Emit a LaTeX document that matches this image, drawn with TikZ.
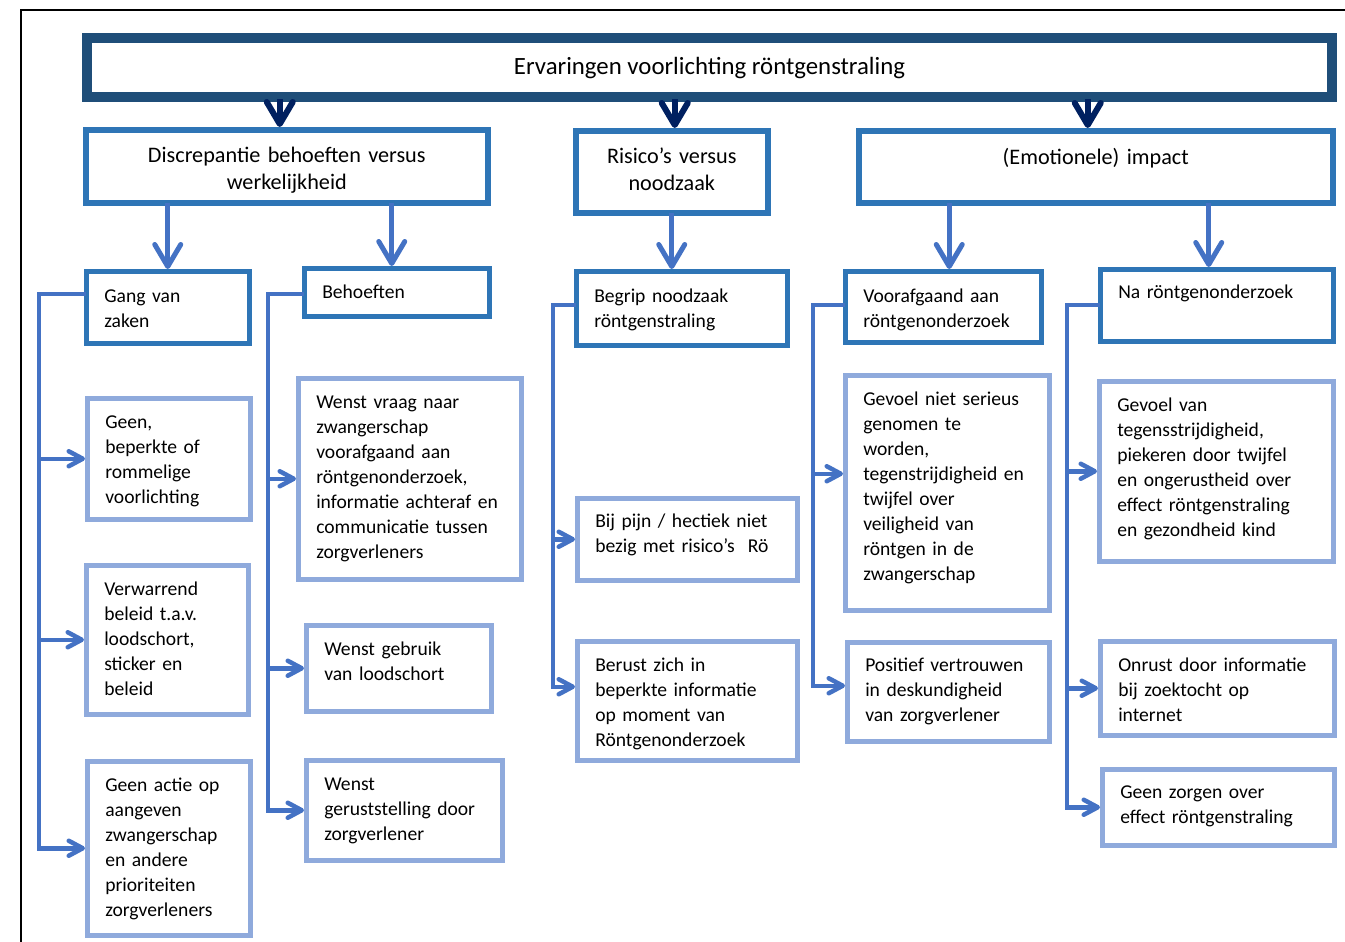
\documentclass[tikz,border=0pt]{standalone}
\usepackage{fontspec}
\setmainfont{Carlito}
\usetikzlibrary{arrows.meta}
\definecolor{titleblue}{HTML}{1F4E79}
\definecolor{navy}{HTML}{002060}
\definecolor{boxblue}{HTML}{2E75B6}
\definecolor{lineblue}{HTML}{4472C4}
\definecolor{leafblue}{HTML}{8FAADC}

\begin{document}
\begin{tikzpicture}[x=1pt, y=-1pt,
  theme/.style={draw=boxblue, line width=5.5pt, fill=white, anchor=north west,
    inner xsep=5pt, inner ysep=0pt, text height=33pt, align=center,
    font=\fontsize{22.2}{27}\selectfont},
  group/.style={draw=boxblue, line width=4.5pt, fill=white, anchor=north west,
    inner xsep=18pt, inner ysep=0pt, text height=30pt, align=left,
    font=\fontsize{19.6}{25}\selectfont},
  leaf/.style={group, draw=leafblue},
  toparr/.style={navy, line width=6pt, line cap=rect,
    -{Straight Barb[length=22pt, width=26pt, round]}},
  downarr/.style={lineblue, line width=5pt, line cap=rect,
    -{Straight Barb[length=22pt, width=26pt, round]}},
  bus/.style={lineblue, line width=4.5pt, line cap=rect},
  busarr/.style={bus, -{Straight Barb[length=14pt, width=15pt, round]}}]

\useasboundingbox (0,0) rectangle (1345,942);

% Frame
\draw [line width=2pt] (21,942) -- (21,10) -- (1345,10);

% Title
\node [draw=titleblue, line width=10pt, fill=white, minimum width=1245pt,
  minimum height=59pt, inner sep=0pt, text height=20pt, text depth=5pt,
  font=\fontsize{24.8}{30}\selectfont]
  (top) at (709.5,67.5) {Ervaringen voorlichting röntgenstraling};

% Themes
\node [theme, text width=392pt, text depth=40pt] (disc) at (83,127)
  {Discrepantie behoeften versus\\werkelijkheid};
\node [theme, text width=182pt, text depth=49pt] (risico) at (573,128)
  {Risico’s versus\\noodzaak};
\node [theme, text width=464pt, text depth=38pt, text height=34pt] (impact) at (856,128)
  {(Emotionele) impact};

% Subthemes
\node [group, text width=127pt, text depth=41pt, text height=31pt] (gang) at (84,269)
  {Gang van\\zaken};
\node [group, text width=149pt, text depth=18pt] (behoeften) at (302,266)
  {Behoeften};
\node [group, text width=175pt, text depth=43pt, text height=31pt] (begrip) at (574,269)
  {Begrip noodzaak\\röntgenstraling};
\node [group, text width=160pt, text depth=40pt, text height=31pt] (vooraf) at (843,269)
  {Voorafgaand aan\\röntgenonderzoek};
\node [group, text width=197pt, text depth=43pt, text height=29pt] (na) at (1098,267)
  {Na röntgenonderzoek};

% Leaves
\node [leaf, text width=127pt, text depth=91pt] (geen) at (85,396)
  {Geen,\\beperkte of\\rommelige\\voorlichting};
\node [leaf, text width=126pt, text depth=119pt] (verw) at (84,563)
  {Verwarrend\\beleid t.a.v.\\loodschort,\\sticker en\\beleid};
\node [leaf, text width=127pt, text depth=144pt] (actie) at (85,759)
  {Geen actie op\\aangeven\\zwangerschap\\en andere\\prioriteiten\\zorgverleners};
\node [leaf, text width=187pt, text depth=171pt] (vraag) at (296,376)
  {Wenst vraag naar\\zwangerschap\\voorafgaand aan\\röntgenonderzoek,\\informatie achteraf en\\communicatie tussen\\zorgverleners};
\node [leaf, text width=149pt, text depth=56pt] (gebruik) at (304,623)
  {Wenst gebruik\\van loodschort};
\node [leaf, text width=160pt, text depth=70pt] (gerust) at (304,758)
  {Wenst\\geruststelling door\\zorgverlener};
\node [leaf, text width=184pt, text depth=53pt, text height=29pt] (pijn) at (575,496)
  {Bij pijn / hectiek niet\\bezig met risico’s~ Rö};
\node [leaf, text width=184pt, text depth=89pt] (berust) at (575,639)
  {Berust zich in\\beperkte informatie\\op moment van\\Röntgenonderzoek};
\node [leaf, text width=168pt, text depth=205pt] (gevoel) at (843,373)
  {Gevoel niet serieus\\genomen te\\worden,\\tegenstrijdigheid en\\twijfel over\\veiligheid van\\röntgen in de\\zwangerschap};
\node [leaf, text width=166pt, text depth=70pt, text height=29pt] (positief) at (845,640)
  {Positief vertrouwen\\in deskundigheid\\van zorgverlener};
\node [leaf, text width=198pt, text depth=150pt] (tegen) at (1097,379)
  {Gevoel van\\tegensstrijdigheid,\\piekeren door twijfel\\en ongerustheid over\\effect röntgenstraling\\en gezondheid kind};
\node [leaf, text width=198pt, text depth=64pt] (onrust) at (1098,639)
  {Onrust door informatie\\bij zoektocht op\\internet};
\node [leaf, text width=196pt, text depth=47pt, text height=29pt] (zorgen) at (1100,767)
  {Geen zorgen over\\effect röntgenstraling};

% Arrows from title
\coordinate (t1) at ([xshift=-7pt]disc.north);
\coordinate (t2) at ([xshift=3pt]risico.north);
\coordinate (t3) at ([xshift=-8pt]impact.north);
\foreach \t in {t1,t2,t3}
  \draw [toparr] (\t |- top.south) -- (\t);

% Arrows from themes
\coordinate (d1) at (gang.north);
\coordinate (d2) at ([xshift=-5pt]behoeften.north);
\coordinate (d4) at ([xshift=6pt]vooraf.north);
\coordinate (d5) at ([xshift=-8pt]na.north);
\draw [downarr] (d1 |- disc.south) -- (d1);
\draw [downarr] (d2 |- disc.south) -- (d2);
\draw [downarr] (risico.south) -- (risico.south |- begrip.north);
\draw [downarr] (d4 |- impact.south) -- (d4);
\draw [downarr] (d5 |- impact.south) -- (d5);

% Side lines
\coordinate (b1) at (39,294);
\coordinate (b2) at (268,294);
\coordinate (b3) at (553,305);
\coordinate (b4) at (813,305);
\coordinate (b5) at (1067,305);
\draw [bus] (b1 -| gang.west) -- (b1);
\draw [bus] (b2 -| behoeften.west) -- (b2);
\draw [bus] (b3 -| begrip.west) -- (b3);
\draw [bus] (b4 -| vooraf.west) -- (b4);
\draw [bus] (b5 -| na.west) -- (b5);
\foreach \n in {geen,verw,actie}
  \draw [busarr] (b1) |- (\n.west);
\foreach \n in {vraag,gebruik,gerust}
  \draw [busarr] (b2) |- (\n.west);
\draw [busarr] (b3) |- (pijn.west);
\draw [busarr] (b3) |- ([yshift=14pt]berust.west);
\draw [busarr] (b4) |- ([yshift=19pt]gevoel.west);
\draw [busarr] (b4) |- ([yshift=6pt]positief.west);
\foreach \n in {tegen,onrust,zorgen}
  \draw [busarr] (b5) |- (\n.west);

\end{tikzpicture}
\end{document}
